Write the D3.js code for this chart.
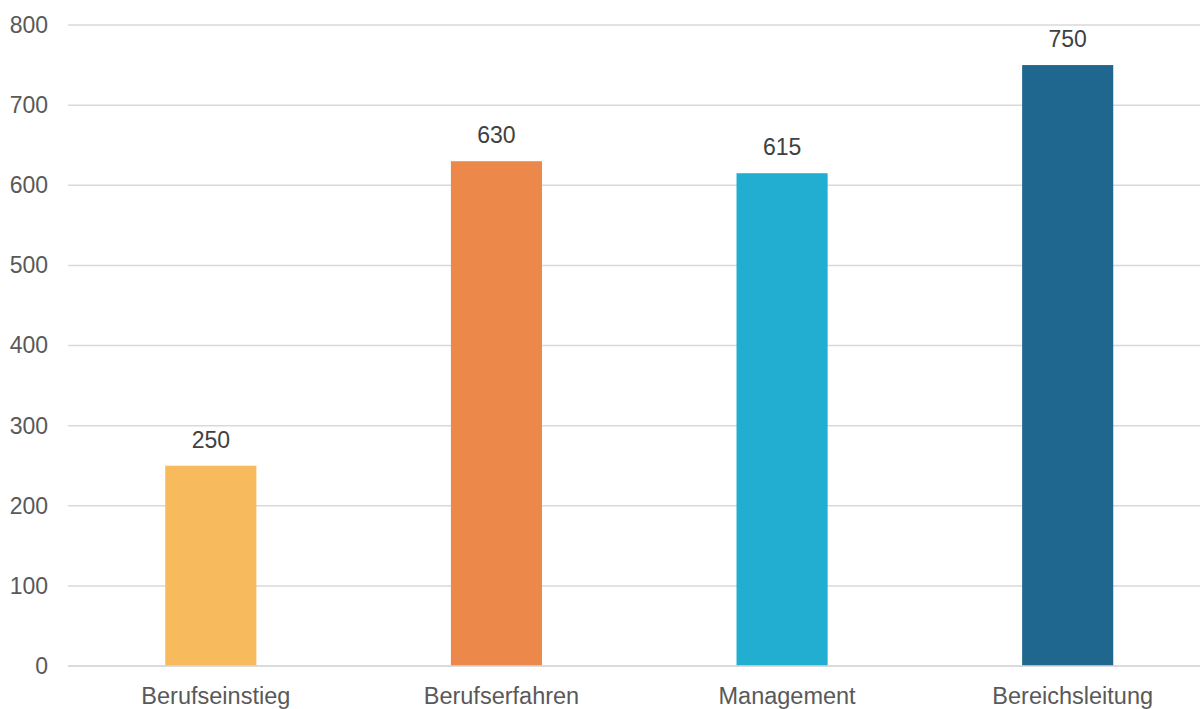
<!DOCTYPE html>
<html>
<head>
<meta charset="utf-8">
<script src="https://cdn.jsdelivr.net/npm/d3@7"></script>
<style>
  html, body { margin: 0; padding: 0; background: #fff; }
  svg { display: block; font-family: "Liberation Sans", Arial, sans-serif; }
</style>
</head>
<body>
<svg id="chart" width="1200" height="709"></svg>
<script>
// Chart data
const categories = ["Berufseinstieg", "Berufserfahren", "Management", "Bereichsleitung"];
const values = [250, 630, 615, 750];
const barColors = ["#F7BB5D", "#ED884B", "#21AED0", "#20678F"];
const yTicks = [0, 100, 200, 300, 400, 500, 600, 700, 800];

const svg = d3.select("#chart");
const plotLeft = 68, plotRight = 1210.5, plotTop = 25, plotBottom = 666;

const x = d3.scaleBand()
  .domain(categories)
  .range([plotLeft, plotRight])
  .paddingInner(0.681)
  .paddingOuter(0.3405);

const y = d3.scaleLinear().domain([0, 800]).range([plotBottom, plotTop]);

// Horizontal gridlines
svg.append("g")
  .selectAll("line")
  .data(yTicks)
  .join("line")
  .attr("x1", plotLeft)
  .attr("x2", 1200)
  .attr("y1", d => y(d))
  .attr("y2", d => y(d))
  .attr("stroke", "#d9d9d9")
  .attr("stroke-width", 1.5);

// Y axis labels
const yAxis = d3.axisLeft(y).tickValues(yTicks).tickSize(0).tickPadding(0);
const yg = svg.append("g").attr("transform", `translate(48,0)`).call(yAxis);
yg.select(".domain").remove();
yg.selectAll("text")
  .attr("fill", "#595959")
  .style("font-size", "23px")
  .style("font-family", "'Liberation Sans', Arial, sans-serif");

// Bars
svg.append("g")
  .selectAll("rect")
  .data(values)
  .join("rect")
  .attr("x", (d, i) => x(categories[i]))
  .attr("y", d => y(d))
  .attr("width", x.bandwidth())
  .attr("height", d => y(0) - y(d))
  .attr("fill", (d, i) => barColors[i]);

// Redraw the zero baseline on top of the bars
svg.append("line")
  .attr("x1", plotLeft).attr("x2", 1200)
  .attr("y1", y(0)).attr("y2", y(0))
  .attr("stroke", "#d9d9d9").attr("stroke-width", 1.5);

// Value labels
svg.append("g")
  .selectAll("text")
  .data(values)
  .join("text")
  .attr("x", (d, i) => x(categories[i]) + x.bandwidth() / 2)
  .attr("y", d => y(d) - 18)
  .attr("text-anchor", "middle")
  .attr("fill", "#404040")
  .style("font-size", "23px")
  .text(d => d);

// Category labels
const xAxis = d3.axisBottom(x).tickSize(0).tickPadding(0);
const xg = svg.append("g").attr("transform", `translate(5,${plotBottom})`).call(xAxis);
xg.select(".domain").remove();
xg.selectAll("text")
  .attr("dy", null)
  .attr("y", 38)
  .attr("fill", "#595959")
  .style("font-size", "23.5px")
  .style("font-family", "'Liberation Sans', Arial, sans-serif");
</script>
</body>
</html>
